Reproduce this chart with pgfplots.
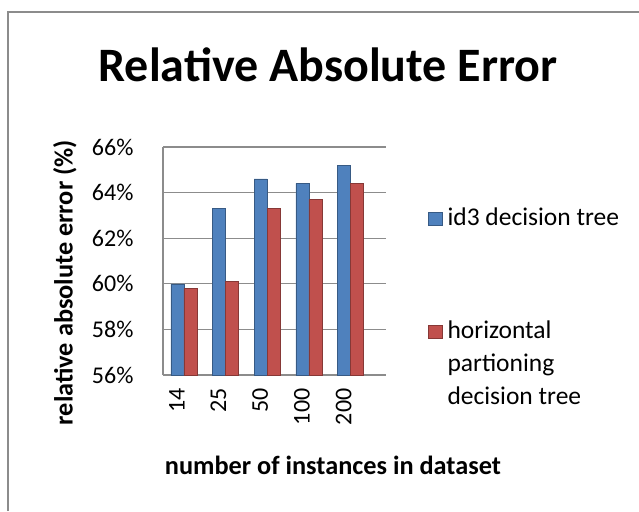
\documentclass[border=0pt]{standalone}
\usepackage{pgfplots}
\pgfplotsset{compat=1.18}
\usepackage{fontspec}
\setmainfont{Carlito}
\definecolor{cblue}{HTML}{4F81BD}
\definecolor{cred}{HTML}{C0504D}
\definecolor{gridg}{HTML}{8C8C8C}
\begin{document}
\begin{tikzpicture}
\useasboundingbox (0pt,0pt) rectangle (639pt,511pt);
\draw[gridg, line width=1.6pt] (8pt,0pt) -- (8pt,499pt) -- (639pt,499pt);
\node[font=\fontsize{48}{52}\selectfont\bfseries] at (328pt,446pt) {Relative Absolute Error};
\begin{axis}[
  at={(163pt,136pt)}, anchor=south west,
  scale only axis, width=223pt, height=228pt,
  ybar=0pt, bar width=13pt,
  xmin=-0.5, xmax=4.85, ymin=56, ymax=66,
  xtick=data, xticklabels={14,25,50,100,200},
  ytick={56,58,60,62,64,66},
  yticklabel={\pgfmathprintnumber{\tick}\%},
  /pgf/number format/assume math mode=true,
  ymajorgrids, grid style={gridg, line width=1.2pt},
  axis x line*=bottom, axis y line*=left,
  axis line style={gridg, line width=1.2pt},
  major tick length=0pt,
  tick label style={font=\fontsize{24}{26}\selectfont},
  yticklabel style={xshift=-26pt},
  xticklabel style={xshift=-7pt, yshift=-10pt, rotate=90, anchor=east},
  every axis y label/.style={at={(axis description cs:-0.44,0.405)}, rotate=90, anchor=center, font=\fontsize{26.3}{28}\selectfont\bfseries},
  every axis x label/.style={at={(axis description cs:0.762,-0.395)}, anchor=center, font=\fontsize{26.3}{28}\selectfont\bfseries},
  ylabel={relative absolute error (\%)},
  xlabel={number of instances in dataset},
  legend style={at={(axis description cs:1.188,0.744)}, anchor=north west, draw=none, fill=none,
    inner sep=0pt, font=\fontsize{25.5}{33}\selectfont, row sep=90pt, column sep=3pt,
    nodes={anchor=base west}},
  legend cell align=left,
  legend image code/.code={\fill[#1] (0pt,0pt) rectangle (14pt,13pt);},
]
\addplot[fill=cblue, draw=cblue!70!black] coordinates {(0,60.0) (1,63.3) (2,64.6) (3,64.4) (4,65.2)};
\addlegendentry{id3 decision tree}
\addplot[fill=cred, draw=cred!70!black] coordinates {(0,59.8) (1,60.1) (2,63.3) (3,63.7) (4,64.4)};
\addlegendentry{\parbox[t]{170pt}{horizontal\\partioning\\decision tree}}
\end{axis}
\end{tikzpicture}
\end{document}
